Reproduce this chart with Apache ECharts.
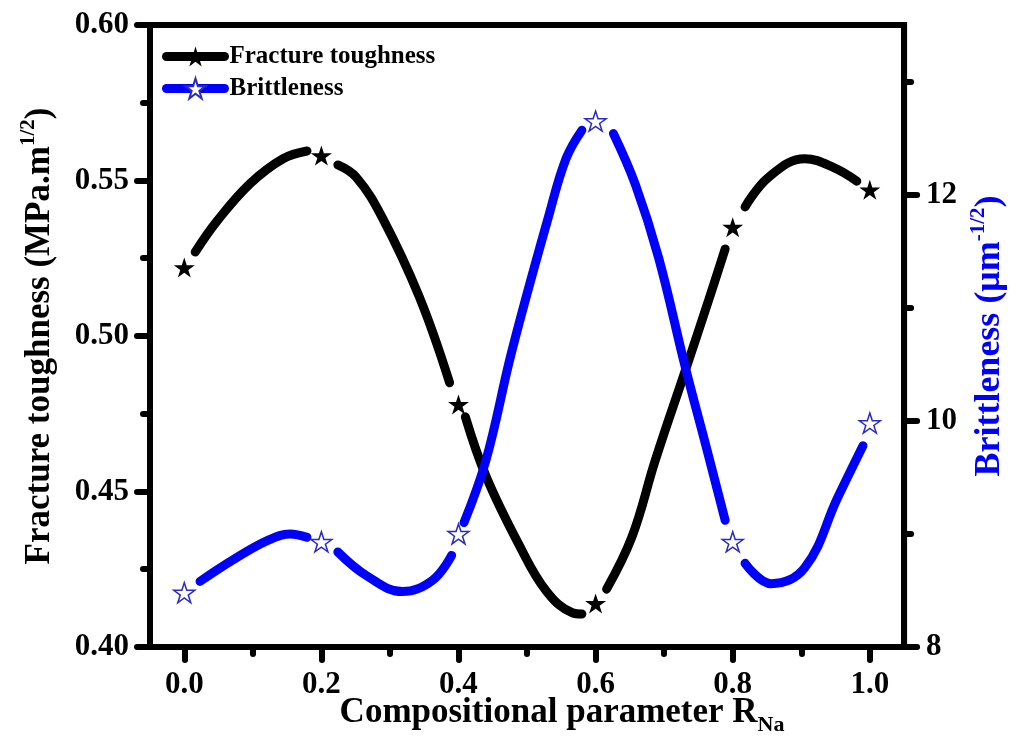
<!DOCTYPE html>
<html>
<head>
<meta charset="utf-8">
<script src="https://cdn.jsdelivr.net/npm/echarts@6/dist/echarts.min.js"></script>
<style>
  html, body { margin: 0; padding: 0; background: #fff; }
  #chart { width: 1016px; height: 749px; }
</style>
</head>
<body>
<div id="chart"></div>
<script>
// measured points
const xPts = [0.0, 0.2, 0.4, 0.6, 0.8, 1.0];
const toughness = [0.522, 0.558, 0.478, 0.414, 0.535, 0.547];
const brittleness = [8.48, 8.93, 9.0, 12.65, 8.93, 9.98];

// fitted curves, one list per segment (gaps at symbols)
const toughnessCurve = [
  [[0.016, 0.527], [0.048, 0.537], [0.096, 0.549], [0.144, 0.557], [0.179, 0.5595]],
  [[0.224, 0.555], [0.251, 0.551], [0.289, 0.538], [0.343, 0.5125], [0.387, 0.485]],
  [[0.41, 0.474], [0.44, 0.455], [0.488, 0.433], [0.528, 0.418], [0.566, 0.411], [0.58, 0.4106]],
  [[0.616, 0.4186], [0.653, 0.4354], [0.687, 0.460], [0.731, 0.489], [0.765, 0.5116], [0.789, 0.528]],
  [[0.818, 0.5415], [0.852, 0.551], [0.905, 0.557], [0.949, 0.554], [0.981, 0.5498]]
];
const brittlenessCurve = [
  [[0.023, 8.58], [0.071, 8.77], [0.121, 8.94], [0.154, 9.0], [0.179, 8.97]],
  [[0.224, 8.84], [0.266, 8.63], [0.318, 8.49], [0.362, 8.59], [0.39, 8.81]],
  [[0.408, 9.10], [0.44, 9.65], [0.478, 10.62], [0.532, 11.82], [0.557, 12.32], [0.58, 12.57]],
  [[0.626, 12.54], [0.658, 12.09], [0.692, 11.44], [0.731, 10.47], [0.76, 9.80], [0.789, 9.12]],
  [[0.818, 8.74], [0.856, 8.56], [0.905, 8.70], [0.953, 9.32], [0.99, 9.78]]
];

// tick labels
const xTicks = [0.0, 0.2, 0.4, 0.6, 0.8, 1.0];
const xMinor = [0.1, 0.3, 0.5, 0.7, 0.9];
const rightTicks = [8, 10, 12];
const rightMinor = [9, 11, 13];

const FONT = 'Liberation Serif';
const BLUE = '#0000ff';
const STAR = 'path://M50 0 L61.23 34.55 L97.55 34.55 L68.17 55.9 L79.39 90.45 L50 69.1 L20.61 90.45 L31.83 55.9 L2.45 34.55 L38.77 34.55 Z';

function joinSegments(segs) {
  let out = [];
  segs.forEach(function (s, i) {
    if (i > 0) out.push([s[0][0] - 0.01, null]);
    out = out.concat(s);
  });
  return out;
}

const labelStyle = { fontFamily: FONT, fontWeight: 'bold', fontSize: 31, color: '#000' };
const tickLine = { color: '#000', width: 6, cap: 'round' };
const axisLine = { show: true, onZero: false, lineStyle: { color: '#000', width: 6 } };

const chartDom = document.getElementById('chart');
const myChart = echarts.init(chartDom);
let option;

option = {
  animation: false,
  grid: { left: 150, right: 109, top: 25, bottom: 102, show: true, borderColor: '#000', borderWidth: 6 },
  legend: {
    left: 157, top: 39, orient: 'vertical',
    itemWidth: 58, itemHeight: 25, itemGap: 7,
    textStyle: { fontFamily: FONT, fontWeight: 'bold', fontSize: 25, color: '#000' },
    data: [
      { name: 'Fracture toughness', lineStyle: { color: '#000', width: 9, opacity: 1, cap: 'round' } },
      { name: 'Brittleness', lineStyle: { color: BLUE, width: 9, opacity: 1, cap: 'round' } }
    ]
  },
  xAxis: [
    {
      type: 'value', min: -0.05, max: 1.05, position: 'bottom',
      axisLine: axisLine,
      axisTick: { customValues: xTicks, length: 13, lineStyle: tickLine },
      axisLabel: Object.assign({ customValues: xTicks, margin: 22, formatter: v => v.toFixed(1) }, labelStyle),
      splitLine: { show: false },
      name: '{m|Compositional parameter R}{s|Na}',
      nameLocation: 'middle', nameGap: 43, nameMoveOverlap: false,
      nameTextStyle: {
        padding: [0, 0, 0, 70],
        rich: {
          m: { fontFamily: FONT, fontWeight: 'bold', fontSize: 35, color: '#000', lineHeight: 46 },
          s: { fontFamily: FONT, fontWeight: 'bold', fontSize: 22, color: '#000', verticalAlign: 'bottom' }
        }
      }
    },
    {
      type: 'value', min: -0.05, max: 1.05, position: 'bottom',
      axisLine: { show: false, onZero: false },
      axisTick: { customValues: xMinor, length: 7, lineStyle: tickLine },
      axisLabel: { show: false },
      splitLine: { show: false }
    }
  ],
  yAxis: [
    {
      type: 'value', min: 0.40, max: 0.60, interval: 0.05, position: 'left',
      axisLine: axisLine,
      axisTick: { length: 13, lineStyle: tickLine },
      minorTick: { show: true, splitNumber: 2, length: 7, lineStyle: tickLine },
      axisLabel: Object.assign({ margin: 21, formatter: v => v.toFixed(2) }, labelStyle),
      splitLine: { show: false },
      name: '{m|Fracture toughness (MPa.m}{s|1/2}{m|)}',
      nameLocation: 'middle', nameGap: 88,
      nameTextStyle: {
        rich: {
          m: { fontFamily: FONT, fontWeight: 'bold', fontSize: 35, color: '#000', lineHeight: 44 },
          s: { fontFamily: FONT, fontWeight: 'bold', fontSize: 21, color: '#000', verticalAlign: 'top' }
        }
      }
    },
    {
      type: 'value', min: 8, max: 13.5, position: 'right',
      axisLine: axisLine,
      axisTick: { customValues: rightTicks, length: 13, lineStyle: tickLine },
      axisLabel: Object.assign({ customValues: rightTicks, margin: 22 }, labelStyle),
      splitLine: { show: false },
      name: '{m|Brittleness (μm}{s|-1/2}{m|)}',
      nameLocation: 'middle', nameGap: 62,
      nameTextStyle: {
        rich: {
          m: { fontFamily: FONT, fontWeight: 'bold', fontSize: 36, color: BLUE, lineHeight: 44 },
          s: { fontFamily: FONT, fontWeight: 'bold', fontSize: 21, color: BLUE, verticalAlign: 'top' }
        }
      }
    },
    {
      type: 'value', min: 8, max: 13.5, position: 'right',
      axisLine: { show: false, onZero: false },
      axisTick: { customValues: rightMinor, length: 7, lineStyle: tickLine },
      axisLabel: { show: false },
      splitLine: { show: false }
    }
  ],
  series: [
    {
      name: 'toughness curve', type: 'line', xAxisIndex: 0, yAxisIndex: 0,
      data: joinSegments(toughnessCurve), smooth: 0.4, symbol: 'none', connectNulls: false,
      lineStyle: { color: '#000', width: 9, cap: 'round' }, z: 2
    },
    {
      name: 'brittleness curve', type: 'line', xAxisIndex: 0, yAxisIndex: 1,
      data: joinSegments(brittlenessCurve), smooth: 0.4, symbol: 'none', connectNulls: false,
      lineStyle: { color: BLUE, width: 9, cap: 'round' }, z: 3
    },
    {
      name: 'Fracture toughness', type: 'line', xAxisIndex: 0, yAxisIndex: 0,
      data: xPts.map((x, i) => [x, toughness[i]]),
      symbol: STAR, symbolSize: [21, 20],
      itemStyle: { color: '#000' },
      lineStyle: { color: '#000', opacity: 0 }, z: 4
    },
    {
      name: 'Brittleness', type: 'line', xAxisIndex: 0, yAxisIndex: 1,
      data: xPts.map((x, i) => [x, brittleness[i]]),
      symbol: STAR, symbolSize: [21, 20],
      itemStyle: { color: '#fff', borderColor: '#2b2bc4', borderWidth: 1.5 },
      lineStyle: { color: BLUE, opacity: 0 }, z: 4
    }
  ]
};

option && myChart.setOption(option);
</script>
</body>
</html>
